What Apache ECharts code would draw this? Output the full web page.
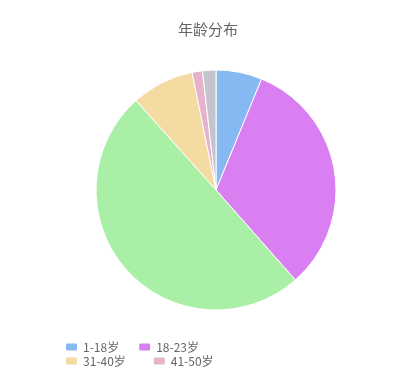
<!DOCTYPE html>
<html>
<head>
<meta charset="utf-8">
<script src="https://cdn.jsdelivr.net/npm/echarts@6/dist/echarts.min.js"></script>
<style>
html,body{margin:0;padding:0;background:#fff;}
#main{width:416px;height:391px;}
</style>
</head>
<body>
<div id="main"></div>
<script>
// 年龄段 和 占比(%)
var ageGroups = ['1-18岁', '18-23岁', '23-30岁', '31-40岁', '41-50岁', '50岁以上'];
var ageValues = [6.2, 32.3, 49.9, 8.4, 1.4, 1.8];
var ageColors = ['#86b9f2', '#d97ff2', '#a9f0a6', '#f3dba2', '#e6b3cc', '#c4c4cc'];
var legendRow1 = ['1-18岁', '18-23岁'];
var legendRow2 = ['31-40岁', '41-50岁'];

var myChart = echarts.init(document.getElementById('main'));

var pieData = ageGroups.map(function (name, i) {
  return { name: name, value: ageValues[i], itemStyle: { color: ageColors[i] } };
});

var legendText = { fontSize: 12, color: '#666', fontFamily: 'Noto Sans CJK SC' };

myChart.setOption({
  title: {
    text: '年龄分布',
    left: 'center',
    top: 17,
    textStyle: { fontSize: 15, fontWeight: 'normal', color: '#666', fontFamily: 'Noto Sans CJK SC' }
  },
  legend: [
    {
      data: legendRow1,
      left: 59,
      top: 336,
      itemWidth: 13,
      itemHeight: 9,
      itemGap: 18,
      textStyle: legendText
    },
    {
      data: legendRow2,
      left: 59,
      top: 350,
      itemWidth: 13,
      itemHeight: 9,
      itemGap: 26,
      textStyle: legendText
    }
  ],
  series: [
    {
      name: '年龄分布',
      type: 'pie',
      center: [216, 190],
      radius: 120,
      startAngle: 90,
      clockwise: true,
      label: { show: false },
      labelLine: { show: false },
      itemStyle: { borderColor: '#fff', borderWidth: 1 },
      data: pieData
    }
  ]
});
</script>
</body>
</html>
